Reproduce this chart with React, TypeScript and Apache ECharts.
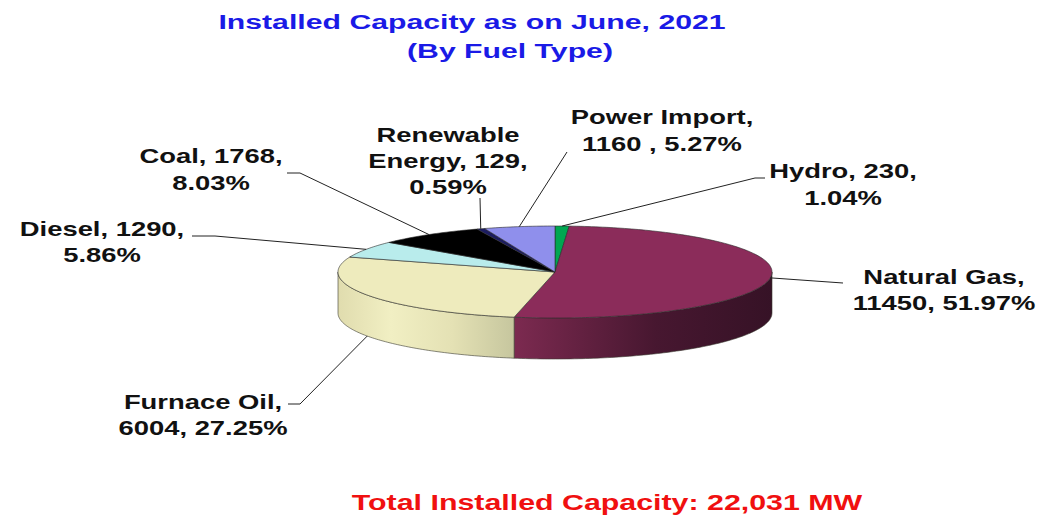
import React, { useEffect, useRef } from "react";
import * as echarts from "echarts";

const categories = ["Hydro", "Natural Gas", "Furnace Oil", "Diesel", "Coal", "Renewable Energy", "Power Import"];
const capacityMW = [230, 11450, 6004, 1290, 1768, 129, 1160];
const labelLines = [
  ["Hydro, 230,", "1.04%"],
  ["Natural Gas,", "11450, 51.97%"],
  ["Furnace Oil,", "6004, 27.25%"],
  ["Diesel, 1290,", "5.86%"],
  ["Coal, 1768,", "8.03%"],
  ["Renewable", "Energy, 129,", "0.59%"],
  ["Power Import,", "1160 , 5.27%"],
];
const titleLines = ["Installed Capacity as on June, 2021", "(By Fuel Type)"];
const footerText = "Total Installed Capacity: 22,031 MW";

// layout and style
const topColors = ["#00a651", "#8b2c5a", "#eeebbd", "#b9ecec", "#000000", "#1c1c60", "#8f8fec"];
const sideStops: Record<number, [number, string][]> = {
  1: [[0, "#7c2a50"], [0.55, "#471730"], [1, "#361226"]],
  2: [[0, "#e0dcae"], [0.3, "#f1efc3"], [0.65, "#e4e1b4"], [1, "#c6c69e"]],
};
const labelCenters: [number, number[]][] = [
  [843, [171, 198]],
  [944, [277, 303]],
  [203, [402, 428]],
  [102, [229, 255]],
  [211, [156, 183]],
  [448, [135, 161, 187]],
  [662, [117, 144]],
];
const leaderElbows: [number, number][][] = [
  [[765, 178], [755, 178]],
  [[843, 283]],
  [[288, 404], [300, 404]],
  [[192, 236], [215, 236]],
  [[287, 173], [300, 173]],
  [[480, 198]],
  [[567, 152]],
];
const CX = 555, CY = 272, RX = 217, RY = 46, DEPTH = 41;
const FONT = '"Liberation Sans", Arial, sans-serif';
const LABEL_SCALE = 1.37;

const total = capacityMW.reduce((a, b) => a + b, 0);
const pt = (deg: number, dy = 0): number[] => {
  const t = (deg * Math.PI) / 180;
  return [CX + RX * Math.sin(t), CY - RY * Math.cos(t) + dy];
};
const arc = (a: number, b: number, dy = 0): number[][] => {
  const out: number[][] = [];
  const n = Math.max(2, Math.ceil(Math.abs(b - a)));
  for (let i = 0; i <= n; i++) out.push(pt(a + ((b - a) * i) / n, dy));
  return out;
};

function renderItem(params: any, api: any) {
  const i = params.dataIndex;
  const before = capacityMW.slice(0, i).reduce((a, b) => a + b, 0);
  const a0 = (before / total) * 360;
  const a1 = a0 + (api.value(0) / total) * 360;
  const mid = (a0 + a1) / 2;
  const children: any[] = [];

  const s0 = Math.max(a0, 90), s1 = Math.min(a1, 270);
  if (s1 > s0) {
    const pts = arc(s0, s1).concat(arc(s1, s0, DEPTH));
    children.push({
      type: "polygon",
      shape: { points: pts },
      style: {
        fill: new echarts.graphic.LinearGradient(
          0, 0, 1, 0,
          (sideStops[i] || [[0, topColors[i]], [1, topColors[i]]]).map(([offset, color]) => ({ offset, color })),
        ),
        stroke: "#3a3a30",
        lineWidth: 0.6,
      },
    });
  }
  children.push({
    type: "polygon",
    shape: { points: [[CX, CY], ...arc(a0, a1)] },
    style: { fill: topColors[i], stroke: "#2a2a2a", lineWidth: 0.6 },
  });

  // leader line: starts at the slice's rim (at the foot of the wall for the front-left slice)
  const front = mid > 180 && mid < 270;
  children.push({
    type: "polyline",
    shape: { points: [...leaderElbows[i], pt(mid, front ? DEPTH : 0)] },
    style: { fill: "none", stroke: "#222", lineWidth: 1 },
  });

  const [lx, ys] = labelCenters[i];
  labelLines[i].forEach((line, k) => {
    children.push({
      type: "text",
      x: lx,
      y: ys[k],
      scaleX: LABEL_SCALE,
      style: {
        text: line,
        fontFamily: FONT,
        fontWeight: "bold",
        fontSize: 20,
        fill: "#111",
        align: "center",
        verticalAlign: "middle",
      },
    });
  });
  return { type: "group", children };
}

const headText = (text: string, x: number, y: number, fill: string, scaleX: number, fontSize: number) => ({
  type: "text" as const,
  x,
  y,
  scaleX,
  silent: true,
  style: { text, fontFamily: FONT, fontWeight: "bold", fontSize, fill, align: "center", verticalAlign: "middle" },
});

export default function App() {
  const ref = useRef<HTMLDivElement>(null);
  useEffect(() => {
    document.body.style.margin = "0";
    const chart = echarts.init(ref.current!, undefined, { renderer: "svg" });
    chart.setOption({
      animation: false,
      backgroundColor: "#ffffff",
      tooltip: { show: false },
      graphic: [
        headText(titleLines[0], 472, 22, "#1a1ae6", 1.44, 21),
        headText(titleLines[1], 510, 51, "#1a1ae6", 1.44, 21),
        headText(footerText, 607, 503, "#f01010", 1.38, 22),
      ],
      series: [
        {
          type: "custom",
          coordinateSystem: "none",
          name: "Installed Capacity",
          silent: true,
          renderItem,
          data: capacityMW.map((value, k) => ({ name: categories[k], value: [value] })),
        },
      ],
    });
    return () => chart.dispose();
  }, []);
  return <div ref={ref} style={{ width: 1040, height: 519 }} />;
}
